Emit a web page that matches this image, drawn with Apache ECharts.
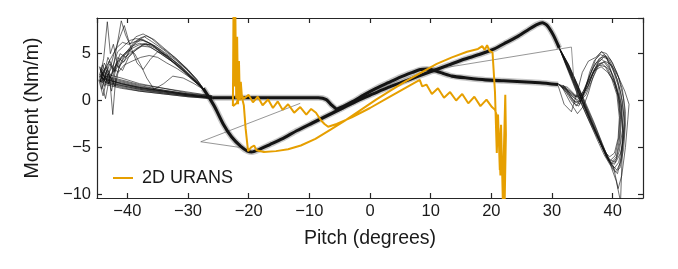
<!DOCTYPE html>
<html><head><meta charset="utf-8">
<script src="https://cdn.jsdelivr.net/npm/echarts@6/dist/echarts.min.js"></script>
<style>html,body{margin:0;padding:0;background:#fff}#c{width:678px;height:269px}</style>
</head><body><div id="c"></div>
<script>
// ---------- DATA (pitch in degrees, moment in Nm/m) ----------
const xTicks = [-40, -30, -20, -10, 0, 10, 20, 30, 40];
const yTicks = [-10, -5, 0, 5];

// thick, repeatable part of the measured cycles: pitch increasing
const coreRise = [[-27.5,1.3],[-26.5,0.3],[-25.5,-0.8],[-24.2,-2.5],[-22.8,-3.9],[-21.3,-4.9],[-20.2,-5.4],[-19.5,-5.5],[-18.5,-5.3],[-16.5,-4.7],[-14.5,-4.1],[-12,-3.2],[-9.5,-2.4],[-7,-1.6],[-4.5,-0.8],[-2,0.0],[0.5,0.7],[3,1.4],[5.5,2.0],[8,2.6],[10.5,3.2],[13,3.8],[15.5,4.4],[18,4.9],[20.5,5.5],[22.5,6.2],[24.5,6.9],[26.2,7.6],[27.5,8.1],[28.4,8.3],[29.2,8.0],[30.2,7.0],[31.2,5.6]];
// thick, repeatable part of the measured cycles: pitch decreasing
const coreFall = [[31,1.7],[28,1.9],[25,2.0],[22,2.1],[19,2.2],[16,2.4],[13.5,2.6],[12,2.9],[10.6,3.2],[9.4,3.35],[8.3,3.3],[7,3.0],[5,2.5],[3,1.9],[1,1.3],[-1,0.6],[-2.8,-0.1],[-4.3,-0.6],[-5.5,-0.9],[-6.3,-0.5],[-7.2,0.1],[-8.5,0.3],[-11,0.3],[-15,0.3],[-19,0.3],[-23,0.3],[-26,0.3]];

// individual cycles around the negative pitch extreme
const leftLobeCycles = [
 [[-26,0.3],[-30,0.5],[-34,0.8],[-38,1.2],[-41,1.6],[-43.5,2.0],[-44.6,2.6],[-44.2,1.2],[-43.4,3.2],[-42.5,2.2],[-41.6,4.6],[-40.6,4.1],[-39.5,5.6],[-38.3,6.4],[-37.2,6.8],[-36,6.3],[-34,5.4],[-32,4.4],[-30,3.2],[-28.6,2.2],[-27.5,1.3]],
 [[-26,0.4],[-30,0.7],[-34,1.1],[-38,1.5],[-41,2.0],[-43.8,2.4],[-44.5,3.4],[-43.9,2.0],[-43.0,4.2],[-42.2,3.0],[-41.2,5.0],[-40.2,4.6],[-39.0,5.9],[-37.8,6.5],[-36.6,6.2],[-35,5.6],[-33,4.6],[-31,3.6],[-29.3,2.5],[-27.6,1.2]],
 [[-26,0.2],[-30,0.4],[-34,0.7],[-38,1.0],[-41,1.3],[-43.6,1.7],[-44.7,2.2],[-44.0,0.5],[-43.2,2.8],[-42.6,1.0],[-41.8,3.8],[-40.8,3.2],[-39.8,4.6],[-38.6,5.4],[-37.4,6.0],[-36.2,6.0],[-34.5,5.2],[-32.5,4.3],[-30.5,3.2],[-28.8,2.1],[-27.4,1.2]],
 [[-26,0.3],[-30,0.6],[-34,1.0],[-38,1.4],[-41,1.8],[-43.3,2.3],[-44.4,2.9],[-43.9,4.5],[-43.3,8.4],[-42.8,5.0],[-42.3,6.0],[-41.5,3.5],[-40.5,4.8],[-39.4,5.5],[-38.2,5.9],[-37,6.1],[-35.5,5.6],[-33.5,4.7],[-31.5,3.6],[-29.5,2.5],[-27.5,1.3]],
 [[-26,0.5],[-30,0.8],[-34,1.3],[-38,1.7],[-41,2.2],[-43.5,2.6],[-44.5,2.0],[-43.6,3.6],[-42.6,2.6],[-41.8,5.5],[-41.0,8.5],[-40.3,7.0],[-39.6,6.0],[-38.6,6.8],[-37.4,7.1],[-36.0,6.6],[-34.2,5.6],[-32.2,4.6],[-30.2,3.4],[-28.6,2.3],[-27.5,1.3]],
 [[-26,0.2],[-30,0.5],[-34,0.8],[-38,1.1],[-41,1.5],[-43.6,1.9],[-44.4,2.8],[-43.8,1.5],[-43.0,3.0],[-42.4,-1.5],[-41.9,2.5],[-41.2,3.8],[-40.2,4.4],[-39.0,5.2],[-37.6,5.8],[-36.2,5.7],[-34.5,5.0],[-32.5,4.1],[-30.5,3.0],[-28.8,2.0],[-27.6,1.2]],
 [[-26,0.4],[-30,0.7],[-34,1.0],[-38,1.4],[-41,1.9],[-43.7,2.2],[-44.6,2.7],[-44.1,3.8],[-43.4,2.5],[-42.5,3.6],[-41.5,3.0],[-40.5,3.8],[-39.2,4.2],[-37.8,4.6],[-36.4,4.8],[-35.0,4.6],[-33.5,4.0],[-31.8,3.4],[-30,2.6],[-28.5,1.8],[-27.4,1.2]],
 [[-26,0.3],[-30,0.6],[-34,0.9],[-38,1.3],[-41,1.7],[-43.4,2.1],[-44.3,3.2],[-43.7,2.4],[-42.9,3.9],[-42.0,3.1],[-41.0,4.6],[-40.0,5.3],[-38.9,6.2],[-37.8,6.7],[-36.8,6.9],[-35.6,6.5],[-33.8,5.5],[-31.8,4.4],[-30,3.3],[-28.5,2.2],[-27.5,1.3]],
 [[-26,0.3],[-30,0.5],[-34,0.9],[-38,1.2],[-41,1.6],[-43.5,2.0],[-44.4,2.5],[-43.8,4.0],[-43.0,3.0],[-42.2,5.0],[-41.2,6.8],[-40.5,8.0],[-39.6,6.0],[-38.4,4.0],[-37.4,3.3],[-36.2,4.4],[-35,5.2],[-33.4,4.8],[-31.5,3.8],[-29.6,2.6],[-27.6,1.3]],
 [[-26,0.4],[-30,0.7],[-34,1.1],[-38,1.6],[-41,2.1],[-43.6,2.5],[-44.5,2.2],[-44.0,3.0],[-43.1,1.8],[-42.3,3.4],[-41.4,4.2],[-40.3,5.0],[-39.2,5.8],[-38.0,6.1],[-36.8,5.9],[-35.2,5.3],[-33.4,4.5],[-31.5,3.7],[-29.8,2.7],[-28.4,1.9],[-27.4,1.2]],
 [[-26,0.2],[-30,0.4],[-34,0.7],[-38,1.0],[-41,1.4],[-43.2,1.8],[-44.3,2.1],[-43.6,0.2],[-42.9,2.6],[-42.0,1.5],[-41.4,3.4],[-40.6,4.5],[-39.6,5.0],[-38.4,5.6],[-37.0,6.0],[-35.6,5.9],[-34.0,5.2],[-32.0,4.3],[-30.2,3.3],[-28.7,2.2],[-27.5,1.2]],
 [[-26,0.5],[-30,0.9],[-34,1.3],[-38,1.8],[-41,2.4],[-43.4,2.8],[-44.6,3.6],[-43.9,2.6],[-43.2,4.6],[-42.4,3.6],[-41.6,5.2],[-40.6,5.8],[-39.6,6.4],[-38.6,6.6],[-37.4,6.5],[-36.0,6.0],[-34.2,5.0],[-32.4,4.0],[-30.6,3.0],[-28.9,2.0],[-27.5,1.3]],
 [[-26,0.3],[-30,0.6],[-34,1.0],[-38,1.3],[-41,1.8],[-43.5,2.2],[-44.4,2.6],[-43.7,3.4],[-42.8,2.4],[-41.8,4.0],[-40.8,4.8],[-39.8,5.4],[-38.8,5.0],[-37.8,3.8],[-36.8,2.4],[-35.6,1.2],[-34.0,1.8],[-32.5,2.6],[-30.8,2.4],[-29,1.8],[-27.5,1.2]],
 [[-26,0.3],[-30,0.6],[-34,1.0],[-38,1.4],[-41,1.8],[-43.6,2.3],[-44.5,2.0],[-43.8,3.2],[-42.8,4.4],[-41.8,5.6],[-40.8,6.2],[-39.8,6.0],[-38.6,6.3],[-37.4,6.4],[-36.0,6.0],[-34.0,5.0],[-32.2,4.0],[-30.4,3.0],[-28.8,2.0],[-27.5,1.2]]
];

// individual cycles around the positive pitch extreme
const rightLobeCycles = [
 [[31.2,5.6],[32.4,3.9],[33.6,2.1],[35.0,-0.1],[36.4,-2.2],[37.8,-4.3],[39.0,-6.0],[39.8,-6.8],[40.6,-6.2],[41.2,-4.5],[41.4,-2.0],[41.0,0.5],[40.2,2.5],[39.2,3.8],[38.2,4.4],[37.2,4.0],[36.3,2.8],[35.3,1.2],[34.4,0.0],[33.4,0.4],[32.2,1.3],[31,1.7]],
 [[31.2,5.6],[32.7,3.9],[34.0,2.0],[35.5,-0.2],[36.9,-2.3],[38.3,-4.6],[39.4,-6.4],[40.3,-7.2],[41.0,-6.6],[41.6,-4.8],[41.9,-2.4],[41.6,0.0],[40.8,2.2],[39.8,3.6],[38.8,4.7],[37.8,4.5],[36.7,3.4],[35.6,1.6],[34.6,-0.4],[33.6,0.0],[32.3,1.2],[31,1.8]],
 [[31.2,5.6],[32.2,3.9],[33.3,2.1],[34.6,0.0],[36.0,-2.0],[37.4,-4.1],[38.6,-5.8],[39.7,-7.0],[40.6,-8.6],[41.3,-10.8],[41.5,-7.0],[41.7,-3.5],[41.3,-0.5],[40.3,1.8],[39.2,3.4],[38.1,4.0],[37.0,3.4],[36.0,2.0],[35.0,0.4],[34.0,-0.6],[32.8,0.6],[31.5,1.5]],
 [[31.2,5.6],[32.5,3.8],[33.9,1.8],[35.3,-0.4],[36.8,-2.6],[38.3,-4.8],[39.5,-6.3],[40.5,-6.6],[41.3,-5.6],[41.9,-3.6],[42.1,-1.2],[41.6,1.2],[40.7,3.0],[39.6,4.4],[38.6,4.9],[37.7,4.3],[36.8,3.0],[35.8,1.4],[34.8,0.2],[33.8,0.6],[32.6,1.4],[31.2,1.7]],
 [[31.2,5.6],[32.3,3.9],[33.5,2.1],[34.9,0.0],[36.2,-2.1],[37.6,-4.0],[38.8,-5.6],[39.6,-6.4],[40.4,-5.9],[41.0,-4.0],[41.2,-1.6],[40.8,0.8],[40.0,2.6],[39.0,4.6],[38.2,5.2],[37.2,4.6],[36.0,4.2],[35.0,3.0],[34.2,1.0],[33.2,-1.2],[32.0,-0.4],[31.0,1.6]],
 [[31.2,5.6],[32.6,3.8],[33.9,2.0],[35.2,-0.1],[36.6,-2.4],[38.0,-4.5],[39.2,-6.3],[40.1,-7.4],[40.8,-7.8],[41.4,-6.0],[41.7,-3.0],[41.4,-0.4],[40.6,1.6],[39.6,3.2],[38.6,4.1],[37.6,3.9],[36.8,2.6],[36.0,0.8],[35.2,-0.6],[34.2,-1.4],[33.0,-0.2],[31.6,1.5]],
 [[31.2,5.6],[32.4,3.9],[33.7,2.0],[35.0,-0.1],[36.4,-2.2],[37.9,-4.4],[39.1,-6.2],[40.1,-7.0],[40.9,-9.4],[41.5,-8.0],[42.1,-5.0],[42.5,-2.0],[42.7,-0.4],[42.0,1.0],[40.9,2.6],[39.8,3.8],[38.7,4.2],[37.6,3.6],[36.6,2.2],[35.6,0.6],[34.4,-0.2],[33.2,0.6],[31.8,1.6]],
 [[31.2,5.6],[32.6,3.9],[33.8,2.0],[35.1,-0.2],[36.5,-2.3],[38.1,-4.6],[39.4,-6.5],[40.3,-6.8],[41.1,-5.4],[41.6,-3.2],[41.5,-0.8],[40.9,1.6],[40.0,3.4],[39.0,4.6],[38.0,4.9],[37.0,4.3],[36.2,3.0],[35.4,1.0],[34.4,-0.6],[33.4,-0.2],[32.2,1.0],[31,1.8]],
 [[31.2,5.6],[32.2,4.0],[33.3,2.3],[34.5,0.2],[35.9,-1.9],[37.4,-3.9],[38.6,-5.4],[39.5,-6.0],[40.3,-5.6],[40.9,-4.0],[41.1,-1.8],[40.7,0.6],[39.8,2.4],[38.8,3.6],[37.7,3.8],[36.8,3.0],[36.0,1.6],[35.0,0.6],[34.0,0.4],[33.0,1.0],[31.8,1.6]],
 [[31.2,5.6],[32.7,3.8],[34.0,1.9],[35.4,-0.3],[36.8,-2.5],[38.2,-4.7],[39.5,-6.6],[40.5,-7.6],[41.2,-7.2],[41.8,-5.2],[42.1,-2.6],[41.8,0.2],[41.0,2.4],[40.0,4.0],[39.0,5.0],[38.1,5.2],[37.2,4.4],[36.3,2.8],[35.4,1.0],[34.4,0.2],[33.2,0.8],[31.8,1.6]],
 [[31.2,5.6],[32.3,3.9],[33.5,2.0],[34.8,0.0],[36.3,-2.2],[37.8,-4.3],[38.9,-6.0],[39.8,-6.6],[40.6,-6.0],[41.1,-4.2],[41.3,-2.0],[41.0,0.4],[40.2,2.0],[39.2,3.0],[38.1,3.6],[37.0,3.2],[36.0,2.0],[35.0,0.8],[33.8,0.4],[32.6,1.0],[31.4,1.6]],
 [[31.2,5.6],[32.8,3.7],[34.1,1.8],[35.5,-0.4],[37.0,-2.6],[38.5,-5.0],[39.8,-6.9],[40.7,-7.4],[41.3,-6.6],[41.8,-4.4],[41.9,-1.8],[41.3,0.9],[40.4,3.0],[39.4,4.4],[38.5,4.6],[37.6,4.0],[36.7,2.8],[35.8,1.2],[34.8,0.0],[33.8,-0.2],[32.4,1.0],[31.2,1.7]]
];

// stray straight segments in the measured record
const strayLeft = [[-11.5,-0.3],[-27.9,-4.4],[-21.5,-5.0]];
const strayRight = [[9.5,3.2],[33.2,5.7],[33.6,2.2]];

// 2D URANS simulation, one cycle
const urans = [[-22.6,-0.6],[-22.5,9.6],[-22.35,1.5],[-22.2,9.6],[-22.05,0.2],[-21.9,6.8],[-21.75,-0.4],[-21.6,4.2],[-21.45,0.0],[-21.3,2.0],[-21.1,0.3],[-20.8,-0.5],
 [-20.5,-3.0],[-20.1,-5.4],[-19.6,-5.0],[-19.1,-4.8],[-18.7,-5.3],[-17.5,-5.5],[-15.5,-5.4],[-13.5,-5.2],[-11.4,-4.8],[-9,-4.1],[-6.5,-3.1],[-4,-2.1],[-1.5,-1.0],[1,0.1],[3.5,1.1],[6,2.1],[8.5,3.0],[11,3.9],[13.5,4.6],[16,5.2],[17.8,5.5],[18.5,5.8],[18.9,5.4],[19.3,5.9],[19.7,5.3],[20.2,5.1],
 [20.6,0.9],[20.9,-5.6],[21.1,-1.5],[21.4,-7.4],[21.6,-2.6],[21.9,-10.8],[22.1,-4.5],[22.3,0.6],[22.4,-3.6],[22.2,-10.8],[21.8,-6.0],[21.5,-8.0],[21.2,-3.0],[20.9,-1.6],[20.6,-1.0],
 [20.1,-0.7],[19.2,0.1],[18.2,-0.6],[17.2,0.4],[16.2,-0.3],[15.2,0.7],[14.2,0.0],[13.2,0.9],[12.2,0.3],[11.2,1.3],[10.2,0.7],[9.3,1.7],[8.6,1.5],[8.2,2.2],
 [6,1.4],[3,0.3],[0,-0.8],[-3,-1.8],[-5.5,-2.5],[-6.9,-2.8],[-7.5,-2.5],[-8.1,-2.1],[-8.9,-1.3],[-9.7,-0.9],
 [-10.5,-1.5],[-11.5,-0.7],[-12.5,-1.3],[-13.5,-0.4],[-14.4,-1.0],[-15.2,-0.1],[-16.0,-0.8],[-16.8,0.1],[-17.7,-0.5],[-18.5,0.4],[-19.3,-0.2],[-20.0,0.6],[-20.8,0.2],[-21.4,0.8],[-22.0,-0.3],[-22.6,-0.6]];

const xRange = [-45, 45];
const yRange = [-10.4, 8.8];
const uransName = '2D URANS';
// ---------- CHART ----------
const FONT = '"Liberation Sans", Arial, Helvetica, sans-serif';
const chart = echarts.init(document.getElementById('c'), null, {renderer: 'canvas'});
const minus = v => String(v).replace('-', '\u2212');
const axisLine = {show: true, onZero: false, lineStyle: {color: '#262626', width: 1.2}};
const tick = {show: true, inside: true, length: 5, lineStyle: {color: '#262626', width: 1.2}};

const series = [];
const thin = (data) => ({type: 'line', data, symbol: 'none', showSymbol: false, silent: true,
  lineStyle: {color: 'rgba(15,15,15,0.6)', width: 1}, z: 2});
leftLobeCycles.forEach(c => series.push(thin(c)));
rightLobeCycles.forEach(c => series.push(thin(c)));
[coreRise, coreFall].forEach(c => {
  series.push({type: 'line', data: c, symbol: 'none', silent: true, smooth: 0.2,
    lineStyle: {color: 'rgba(0,0,0,0.22)', width: 6}, z: 2});
  series.push({type: 'line', data: c, symbol: 'none', silent: true, smooth: 0.2,
    lineStyle: {color: '#141414', width: 3.1}, z: 3});
});
[strayLeft, strayRight].forEach(c => series.push({type: 'line', data: c, symbol: 'none', silent: true,
  lineStyle: {color: 'rgba(90,90,90,0.7)', width: 0.9}, z: 2}));
series.push({name: uransName, type: 'line', data: urans, symbol: 'none', silent: true,
  lineStyle: {color: '#E69F00', width: 2}, itemStyle: {color: '#E69F00'}, z: 5});

chart.setOption({
  animation: false,
  backgroundColor: '#fff',
  textStyle: {fontFamily: FONT},
  grid: {left: 97, right: 35, top: 18, bottom: 71, containLabel: false},
  legend: {data: [uransName], left: 108, top: 164, icon: 'rect', itemWidth: 20, itemHeight: 2,
    textStyle: {fontSize: 18, color: '#1a1a1a', fontFamily: FONT, padding: [0, 0, 0, 4]}},
  xAxis: [
    {type: 'value', min: xRange[0], max: xRange[1], splitNumber: 9, position: 'bottom',
     name: 'Pitch (degrees)', nameLocation: 'middle', nameGap: 31,
     nameTextStyle: {fontSize: 19.5, color: '#1a1a1a', fontFamily: FONT},
     axisLine, axisTick: tick, splitLine: {show: false},
     axisLabel: {fontSize: 16.5, color: '#1a1a1a', margin: 5, fontFamily: FONT, showMinLabel: false, showMaxLabel: false,
       formatter: v => xTicks.includes(v) ? minus(v) : ''}},
    {type: 'value', min: xRange[0], max: xRange[1], splitNumber: 9, position: 'top',
     axisLine, axisTick: tick, axisLabel: {show: false}, splitLine: {show: false}}
  ],
  yAxis: [
    {type: 'value', min: yRange[0], max: yRange[1], splitNumber: 4, position: 'left',
     name: 'Moment (Nm/m)', nameLocation: 'middle', nameGap: 54,
     nameTextStyle: {fontSize: 19.5, color: '#1a1a1a', fontFamily: FONT},
     axisLine, axisTick: tick, splitLine: {show: false},
     axisLabel: {fontSize: 16.5, color: '#1a1a1a', margin: 6, fontFamily: FONT, showMinLabel: false, showMaxLabel: false,
       formatter: v => yTicks.includes(v) ? minus(v) : ''}},
    {type: 'value', min: yRange[0], max: yRange[1], splitNumber: 4, position: 'right',
     axisLine, axisTick: tick, axisLabel: {show: false}, splitLine: {show: false}}
  ],
  series
});
</script></body></html>
